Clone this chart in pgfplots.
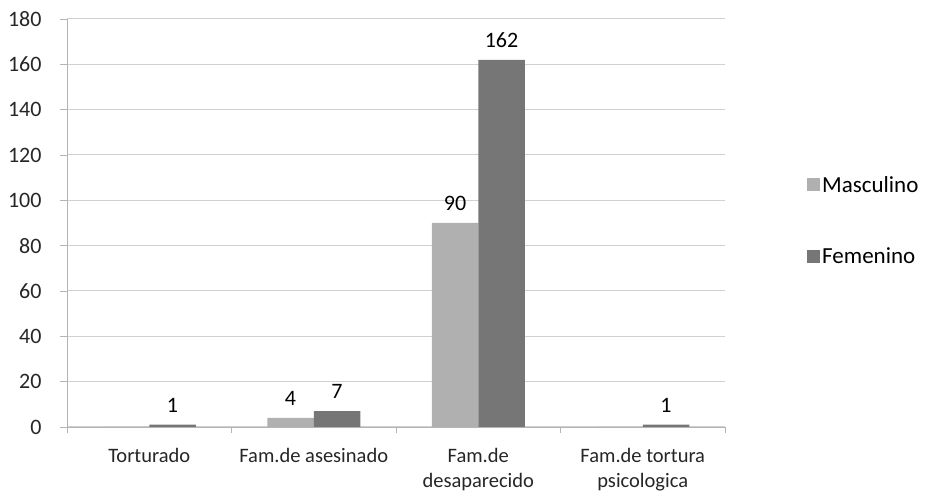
\documentclass[border=0pt]{standalone}
\usepackage{fontspec}
\setmainfont{Carlito}
\usepackage{pgfplots}
\pgfplotsset{compat=1.18}

\definecolor{masc}{RGB}{176,176,176}
\definecolor{fem}{RGB}{118,118,118}
\definecolor{gridc}{RGB}{208,208,208}
\definecolor{axc}{RGB}{180,180,180}

\begin{document}
\begin{tikzpicture}
\useasboundingbox (0,0) rectangle (929pt,494pt);
\begin{axis}[
  at={(67pt,67pt)}, anchor=south west,
  width=658pt, height=408pt, scale only axis,
  xmin=-0.5, xmax=3.5, ymin=0, ymax=180,
  axis lines*=left,
  axis line style={draw=axc, line width=0.8pt},
  ybar=0pt, bar width=46.5pt,
  ytick={0,20,...,180},
  ymajorgrids, grid style={draw=gridc, line width=1pt},
  xtick={0,1,2,3},
  xticklabels={Torturado, Fam.de asesinado, {Fam.de\\desaparecido}, {Fam.de tortura\\psicologica}},
  xticklabel style={align=center, font=\fontsize{20.5}{25}\selectfont, text=black!85, yshift=-11pt},
  major x tick style={draw=none},
  minor xtick={-0.5,0.5,1.5,2.5,3.5},
  minor tick length=6pt,
  tick align=outside,
  major tick length=7pt,
  tick style={draw=axc, line width=0.8pt},
  yticklabel style={font=\fontsize{22}{25}\selectfont, text=black!85, xshift=-15pt},
  /pgf/number format/assume math mode=true,
  nodes near coords={\pgfmathfloatifflags{\pgfplotspointmeta}{0}{}{\pgfmathprintnumber{\pgfplotspointmeta}}},
  every node near coord/.append style={font=\fontsize{22}{25}\selectfont, text=black, yshift=9pt},
  legend style={at={(1.1246,0.506)}, anchor=west, draw=none, fill=none,
    font=\fontsize{23}{26}\selectfont, row sep=50pt, inner xsep=0pt,
    /tikz/every even column/.append style={column sep=7pt}},
  legend cell align=left,
  legend image code/.code={\fill[#1] (0pt,-6.5pt) rectangle (13pt,6.5pt);},
]
\addplot[fill=masc, draw=none] coordinates {(0,0) (1,4) (2,90) (3,0)};
\addplot[fill=fem, draw=none] coordinates {(0,1) (1,7) (2,162) (3,1)};
\legend{Masculino, Femenino}
\end{axis}
\end{tikzpicture}
\end{document}
